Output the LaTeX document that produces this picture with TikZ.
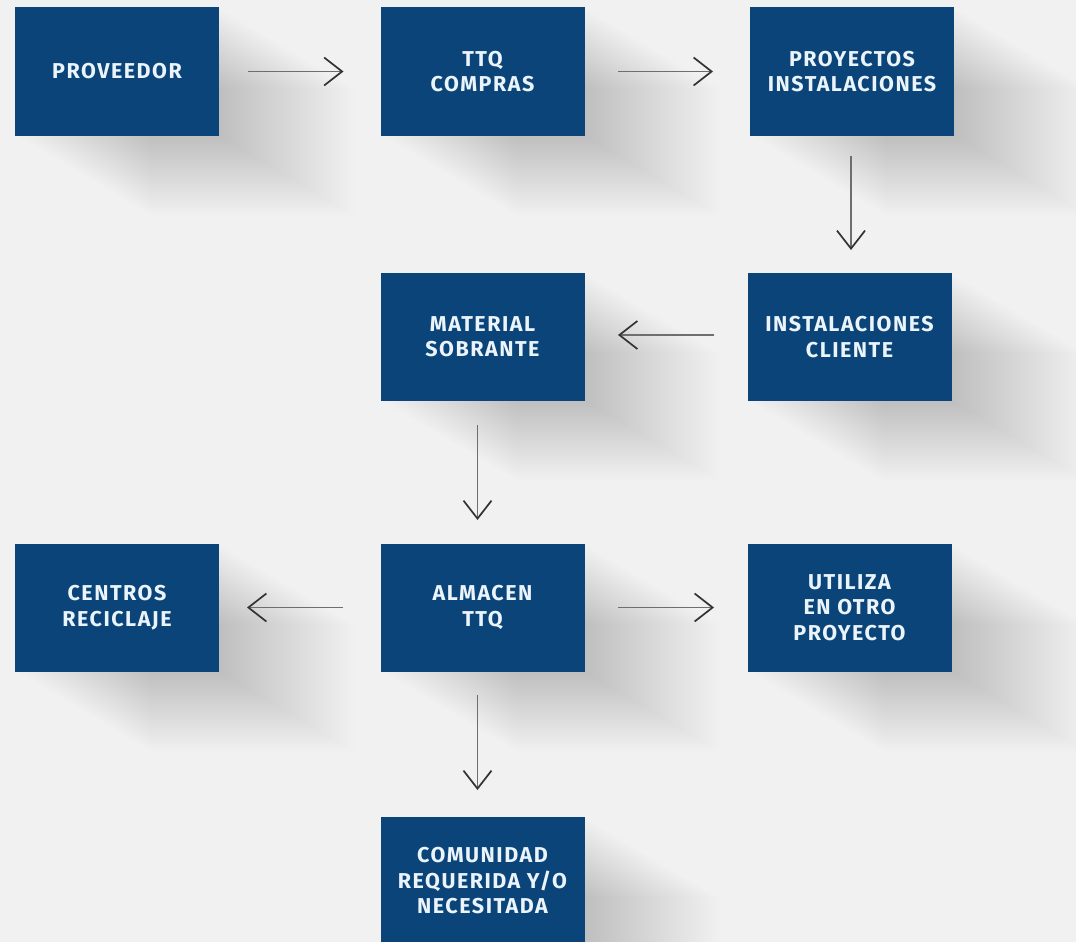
\documentclass[tikz,border=0pt]{standalone}
\usepackage{fontspec}
\newfontfamily\boxfont[LetterSpace=7]{Fira Sans}
\usetikzlibrary{arrows.meta,calc,backgrounds}
\definecolor{bg}{HTML}{F1F1F1}
\definecolor{navy}{HTML}{0B4479}
\definecolor{boxtext}{HTML}{EAF4FA}
\definecolor{arrowline}{HTML}{6E6E6E}
\definecolor{arrowhead}{HTML}{333333}
\tikzset{
  flowbox/.style={fill=navy, text=boxtext, minimum width=204pt, minimum height=128pt,
    inner sep=0pt, outer sep=0pt, align=center,
    font=\boxfont\bfseries\fontsize{21.5}{25.5}\selectfont},
  flowarrow/.style={draw=arrowline, line width=1.3pt,
    -{Straight Barb[length=18pt,width=28pt,line width=1.7pt,color=arrowhead]}},
  shadowstep/.style={fill=black, opacity=0.0021},
}
\newcommand\longshadow[1]{%
  \foreach \i in {1,...,50}{%
    \fill[shadowstep] ($(#1.north west)+(\i*2.7,\i*1.6)$) rectangle ($(#1.south east)+(\i*2.7,\i*1.6)$);
  }%
}
\begin{document}
\begin{tikzpicture}[x=1pt,y=-1pt]
\useasboundingbox (0,0) rectangle (1076,942);
% boxes
\node[flowbox] (prov) at (117,71.5) {PROVEEDOR};
\node[flowbox] (ttq)  at (482.5,71.5) {TTQ\\COMPRAS};
\node[flowbox] (proy) at (852,71.5) {PROYECTOS\\INSTALACIONES};
\node[flowbox] (mat)  at (482.5,336.5) {MATERIAL\\SOBRANTE};
\node[flowbox] (inst) at (849.5,337) {INSTALACIONES\\CLIENTE};
\node[flowbox] (cent) at (117,607.5) {CENTROS\\RECICLAJE};
\node[flowbox] (alm)  at (482.5,607.5) {ALMACEN\\TTQ};
\node[flowbox] (util) at (849.5,607.5) {UTILIZA\\EN OTRO\\PROYECTO};
\node[flowbox] (com)  at (482.5,881) {COMUNIDAD\\REQUERIDA Y/O\\NECESITADA};
% background and long shadows
\begin{pgfonlayer}{background}
  \fill[bg] (0,0) rectangle (1076,942);
  \longshadow{prov}
  \longshadow{ttq}
  \longshadow{proy}
  \longshadow{mat}
  \longshadow{inst}
  \longshadow{cent}
  \longshadow{alm}
  \longshadow{util}
  \longshadow{com}
\end{pgfonlayer}
% connectors
\draw[flowarrow, shorten <=29pt, shorten >=37pt] (prov) -- (ttq);
\draw[flowarrow, shorten <=33.5pt, shorten >=37pt] (ttq) -- (proy);
\draw[flowarrow, shorten <=20pt, shorten >=23pt] ([xshift=-1pt]proy.south) -- ([xshift=-1pt]proy.south |- inst.north);
\draw[flowarrow, shorten <=33.5pt, shorten >=33.5pt] ([yshift=2pt]inst.west) -- ([yshift=2pt]inst.west -| mat.east);
\draw[flowarrow, shorten <=24.5pt, shorten >=23.5pt] ([xshift=-5pt]mat.south) -- ([xshift=-5pt]mat.south |- alm.north);
\draw[flowarrow, shorten <=37.5pt, shorten >=28pt] (alm.west) -- (cent.east);
\draw[flowarrow, shorten <=33.5pt, shorten >=33.5pt] (alm.east) -- (util.west);
\draw[flowarrow, shorten <=23.5pt, shorten >=27pt] ([xshift=-5pt]alm.south) -- ([xshift=-5pt]alm.south |- com.north);
\end{tikzpicture}
\end{document}
